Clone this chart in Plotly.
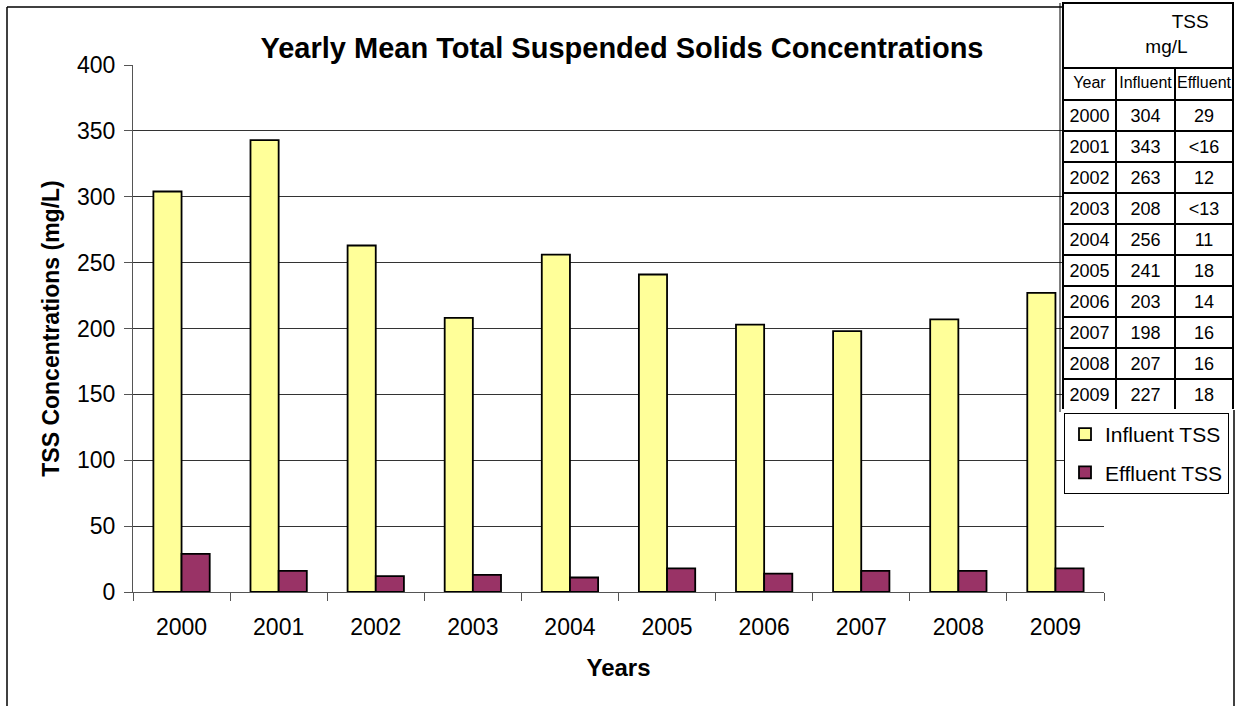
import plotly.graph_objects as go

# Data
years = ["2000", "2001", "2002", "2003", "2004", "2005", "2006", "2007", "2008", "2009"]
influent = [304, 343, 263, 208, 256, 241, 203, 198, 207, 227]
effluent = [29, 16, 12, 13, 11, 18, 14, 16, 16, 18]
# "\u02c2" looks like "<" but keeps plotly's table from switching to markup mode
effluent_labels = ["29", "\u02c216", "12", "\u02c213", "11", "18", "14", "16", "16", "18"]
y_ticks = [0, 50, 100, 150, 200, 250, 300, 350, 400]

W, H = 1235, 706
ML, MR, MT, MB = 133, 2, 3, 114
PW, PH = W - ML - MR, H - MT - MB


def px_x(x):
    return (x - ML) / PW


def px_y(y):
    return (H - MB - y) / PH


FONT = "Liberation Sans, Arial, sans-serif"

fig = go.Figure()

fig.add_trace(go.Bar(
    x=years, y=influent, name="Influent TSS",
    marker=dict(color="#FFFF99", line=dict(color="black", width=1.8)),
    legendgroup="a",
))
fig.add_trace(go.Bar(
    x=years, y=effluent, name="Effluent TSS",
    marker=dict(color="#993366", line=dict(color="black", width=1.8)),
    legendgroup="b",
))

# merged header cell of the data table
fig.add_trace(go.Table(
    domain=dict(x=[px_x(1063), px_x(1233)], y=[px_y(68), px_y(3)]),
    header=dict(
        values=["\u00a0" * 16 + "TSS<br>" + "\u00a0" * 11 + "mg/L"],
        height=65, align="center", fill_color="white",
        line=dict(color="black", width=2),
        font=dict(family=FONT, size=19, color="black"),
    ),
    cells=dict(values=[[]], height=0, line=dict(color="black", width=2)),
))

fig.add_trace(go.Table(
    domain=dict(x=[px_x(1063), px_x(1233)], y=[px_y(410), px_y(68)]),
    columnwidth=[53, 59, 58],
    header=dict(
        values=["Year", "Influent", "Effluent"],
        height=32, align="center", fill_color="white",
        line=dict(color="black", width=2),
        font=dict(family=FONT, size=16, color="black"),
    ),
    cells=dict(
        values=[years, [str(v) for v in influent], effluent_labels],
        height=31, align="center", fill_color="white",
        line=dict(color="black", width=2),
        font=dict(family=FONT, size=18, color="black"),
    ),
))

shapes = [
    dict(type="line", xref="paper", yref="paper", x0=px_x(7), x1=px_x(1063),
         y0=px_y(7), y1=px_y(7), line=dict(color="black", width=1.5)),
    dict(type="line", xref="paper", yref="paper", x0=px_x(7), x1=px_x(7),
         y0=px_y(7), y1=px_y(720), line=dict(color="black", width=1.5)),
    dict(type="line", xref="paper", yref="paper", x0=px_x(1234), x1=px_x(1234),
         y0=px_y(410), y1=px_y(720), line=dict(color="black", width=1.5)),
    dict(type="line", xref="paper", yref="paper", x0=px_x(1060), x1=px_x(1060),
         y0=px_y(3), y1=px_y(412), line=dict(color="black", width=1)),
]

fig.update_layout(
    width=W, height=H,
    margin=dict(l=ML, r=MR, t=MT, b=MB, autoexpand=False),
    paper_bgcolor="white", plot_bgcolor="white",
    font=dict(family=FONT, size=23, color="black"),
    barmode="group", bargap=0.42, bargroupgap=0,
    title=dict(
        text="<b>Yearly Mean Total Suspended Solids Concentrations</b>",
        x=622 / W, xanchor="center", y=1 - 48 / H, yanchor="middle",
        font=dict(family=FONT, size=29, color="black"),
    ),
    xaxis=dict(
        domain=[0, px_x(1104)],
        title=dict(text="<b>Years</b>", font=dict(size=24), standoff=20),
        showline=True, linecolor="#555", linewidth=1,
        ticks="outside", tickson="boundaries", ticklen=8, tickcolor="#555",
        tickfont=dict(size=23), ticklabelstandoff=14,
    ),
    yaxis=dict(
        domain=[0, px_y(65)],
        range=[0, 400], tickvals=y_ticks,
        title=dict(text="<b>TSS Concentrations (mg/L)</b>", font=dict(size=23), standoff=10),
        showline=True, linecolor="#555", linewidth=1,
        ticks="outside", ticklen=8, tickcolor="#555",
        showgrid=True, gridcolor="#333", gridwidth=1,
        tickfont=dict(size=23), zeroline=False, ticklabelstandoff=4,
    ),
    legend=dict(
        x=px_x(1064), y=px_y(413), xanchor="left", yanchor="top",
        bordercolor="black", borderwidth=1, bgcolor="white",
        font=dict(size=21), traceorder="grouped", tracegroupgap=8,
    ),
    shapes=shapes,
)

fig.write_html("out.html", config={"displayModeBar": False},
               post_script="document.body.style.margin='0';")
